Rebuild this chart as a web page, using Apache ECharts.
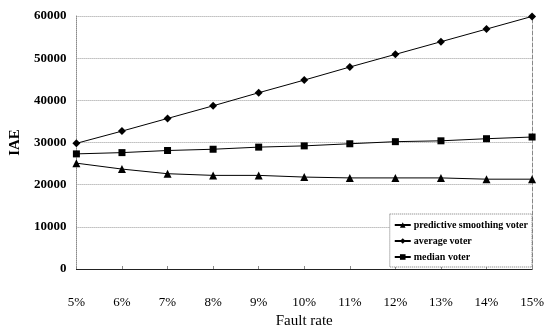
<!DOCTYPE html>
<html>
<head>
<meta charset="utf-8">
<script src="https://cdn.jsdelivr.net/npm/echarts@6/dist/echarts.min.js"></script>
<style>
  html, body { margin: 0; padding: 0; background: #fff; }
  #chart { width: 547px; height: 334px; }
</style>
</head>
<body>
<div id="chart"></div>
<script>
// Fault rates on the horizontal axis
var faultRates = ['5%', '6%', '7%', '8%', '9%', '10%', '11%', '12%', '13%', '14%', '15%'];

// IAE for each voter
var predictiveSmoothing = [25100, 23700, 22600, 22200, 22200, 21800, 21600, 21600, 21600, 21300, 21300];
var averageVoter = [29800, 32700, 35700, 38700, 41800, 44800, 47900, 50900, 53900, 56900, 59900];
var medianVoter = [27300, 27600, 28100, 28400, 28900, 29200, 29700, 30200, 30400, 30900, 31300];

var SERIF = '"Liberation Serif", "DejaVu Serif", serif';

var chart = echarts.init(document.getElementById('chart'), null, { renderer: 'canvas' });

function lineSeries(name, data, symbol, size) {
  return {
    name: name,
    type: 'line',
    data: data,
    symbol: symbol,
    symbolSize: size,
    showAllSymbol: true,
    lineStyle: { color: '#000', width: 1 },
    itemStyle: { color: '#000', borderWidth: 0 },
    emphasis: { disabled: true },
    animation: false
  };
}

chart.setOption({
  backgroundColor: '#fff',
  animation: false,
  grid: { left: 75, right: 13, top: 16, bottom: 61, containLabel: false },
  legend: {
    orient: 'vertical',
    right: 15,
    bottom: 67,
    padding: [6, 4, 5, 4],
    itemGap: 6,
    itemWidth: 16,
    itemHeight: 7,
    borderColor: '#777',
    borderWidth: 1,
    borderType: 'dotted',
    backgroundColor: '#fff',
    textStyle: { fontFamily: SERIF, fontWeight: 'bold', fontSize: 10, color: '#000', padding: [0, 0, 0, -2] },
    data: ['predictive smoothing voter', 'average voter', 'median voter']
  },
  xAxis: [{
    type: 'category',
    data: faultRates,
    boundaryGap: false,
    name: 'Fault rate',
    nameLocation: 'middle',
    nameGap: 45,
    nameTextStyle: { fontFamily: SERIF, fontSize: 15, color: '#000' },
    axisLine: { lineStyle: { color: '#222', width: 1 } },
    axisTick: { inside: true, length: 3, lineStyle: { color: '#888' } },
    axisLabel: { fontFamily: SERIF, fontSize: 13, color: '#000', margin: 27 },
    splitLine: { show: false }
  }],
  yAxis: [{
    type: 'value',
    min: 0,
    max: 60000,
    interval: 10000,
    name: 'IAE',
    nameLocation: 'middle',
    nameGap: 48,
    nameRotate: 90,
    nameTextStyle: { fontFamily: SERIF, fontSize: 15, fontWeight: 'bold', color: '#000' },
    axisLine: { show: true, lineStyle: { color: '#888', type: 'dotted' } },
    axisTick: { show: false },
    axisLabel: {
      fontFamily: SERIF, fontSize: 13, fontWeight: 'bold', color: '#000', margin: 10,
      formatter: function (v) { return String(v); }
    },
    splitLine: { show: true, lineStyle: { color: '#999', type: 'dotted', width: 1 } }
  }, {
    type: 'value',
    position: 'right',
    min: 0,
    max: 60000,
    interval: 10000,
    axisLine: { show: true, lineStyle: { color: '#888', type: 'dashed' } },
    axisTick: { show: false },
    axisLabel: { show: false },
    splitLine: { show: false }
  }],
  series: [
    lineSeries('predictive smoothing voter', predictiveSmoothing, 'triangle', 8),
    lineSeries('average voter', averageVoter, 'diamond', 8),
    lineSeries('median voter', medianVoter, 'rect', 7)
  ]
});
</script>
</body>
</html>
